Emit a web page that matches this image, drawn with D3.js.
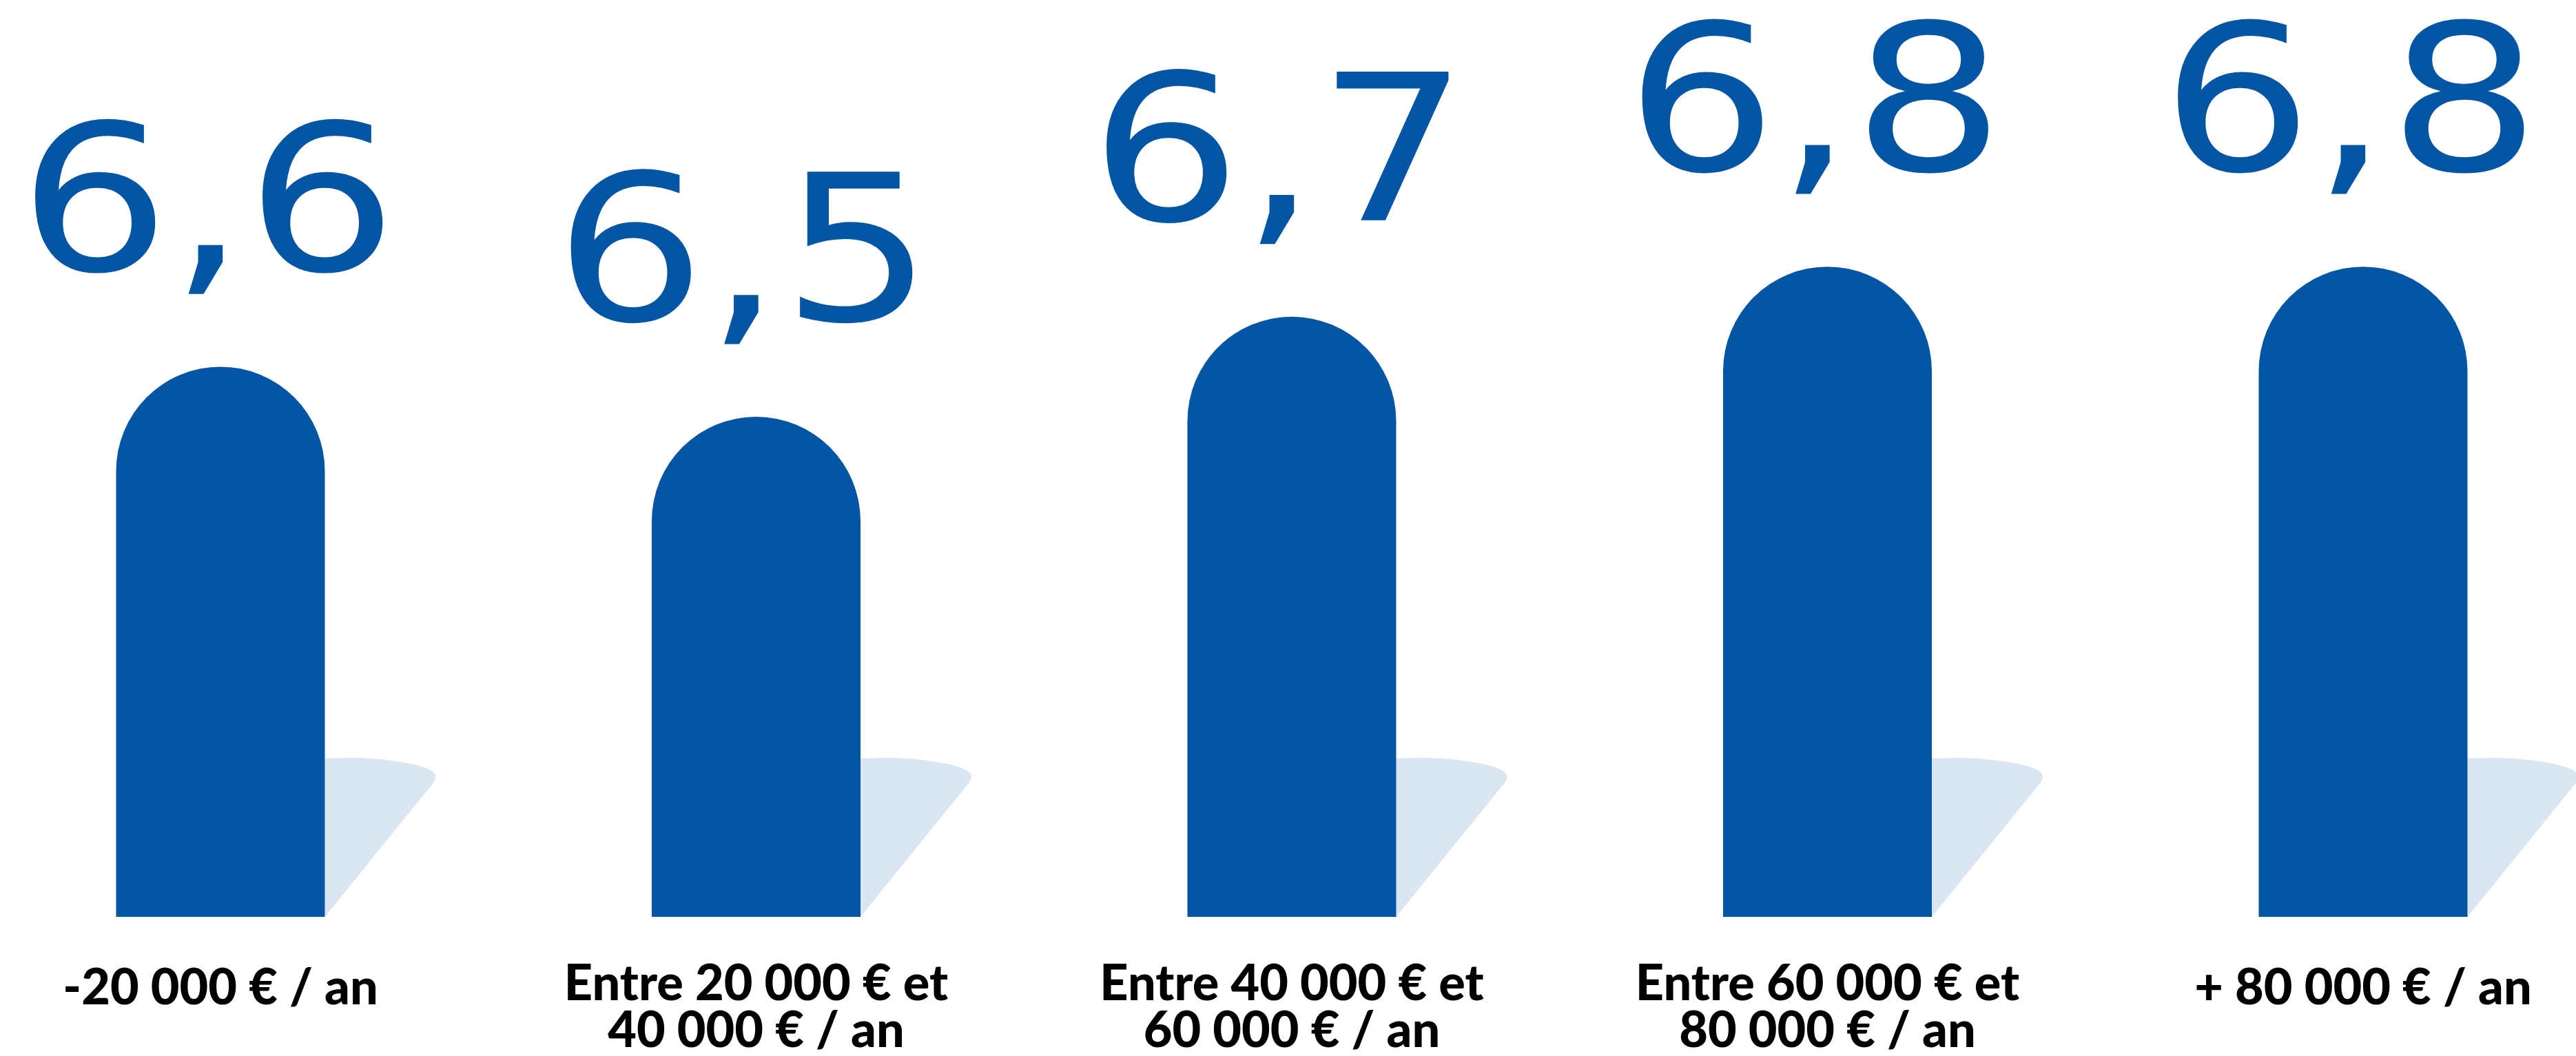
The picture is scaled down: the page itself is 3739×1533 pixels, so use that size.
<!DOCTYPE html>
<html lang="fr">
<head>
<meta charset="utf-8">
<script src="https://cdn.jsdelivr.net/npm/d3@7"></script>
<style>
  html, body { margin: 0; padding: 0; background: #ffffff; }
  svg { display: block; }
</style>
</head>
<body>
<div id="graphique"></div>
<script>
//----------------------------------------------------------------
//  Données
//----------------------------------------------------------------
var tranches = ["t1", "t2", "t3", "t4", "t5"];
var etiquettes = [
    ["-20 000 € / an"],
    ["Entre 20 000 € et", "40 000 € / an"],
    ["Entre 40 000 € et", "60 000 € / an"],
    ["Entre 60 000 € et", "80 000 € / an"],
    ["+ 80 000 € / an"]
];
var valeurs = [6.6, 6.5, 6.7, 6.8, 6.8];

//----------------------------------------------------------------
//  Création du svg
//----------------------------------------------------------------
var largeurSvg = 3739, hauteurSvg = 1533;
var bleu = "#0455a4", bleuClair = "#dae6f1";

var svg = d3.select("#graphique")
    .append("svg")
    .attr("width", largeurSvg)
    .attr("height", hauteurSvg);

var donnees = tranches.map(function(t, i) {
    return {cle: t, valeur: valeurs[i], lignes: etiquettes[i]};
});

// échelles
var x = d3.scalePoint()
    .domain(tranches)
    .range([320, 3430]);

var y = d3.scaleLinear()
    .domain([5.5, 7])
    .range([1331, 242]);

var largeurBarre = 303, rayon = largeurBarre / 2;
var base = y(5.5);

// format français : 6,6
var format = function(v) { return d3.format(".1f")(v).replace(".", ","); };

//----------------------------------------------------------------
//  Ombres (derrière les barres)
//----------------------------------------------------------------
svg.append("g")
    .selectAll("path")
    .data(donnees)
    .enter().append("path")
        .attr("fill", bleuClair)
        .attr("transform", function(d) {
            return "translate(" + (x(d.cle) + rayon) + "," + base + ")";
        })
        .attr("d", "M0,-230 L39,-231 C90,-230 140,-222 155,-212 Q166,-205 157,-194 L0,0 Z");

//----------------------------------------------------------------
//  Barres avec le haut arrondi
//----------------------------------------------------------------
svg.append("g")
    .selectAll("path")
    .data(donnees)
    .enter().append("path")
        .attr("fill", bleu)
        .attr("d", function(d) {
            var g = x(d.cle) - rayon, dr = x(d.cle) + rayon;
            var haut = y(d.valeur) + rayon;   // début de l'arrondi
            return "M" + g + "," + base +
                   "V" + haut +
                   "A" + rayon + "," + rayon + " 0 0 1 " + dr + "," + haut +
                   "V" + base + "Z";
        });

//----------------------------------------------------------------
//  Valeurs au-dessus des barres
//----------------------------------------------------------------
svg.append("g")
    .selectAll("text")
    .data(donnees)
    .enter().append("text")
        .attr("x", function(d) { return x(d.cle) - 18; })
        .attr("y", function(d) { return y(d.valeur) - 140; })
        .attr("text-anchor", "middle")
        .attr("fill", bleu)
        .attr("font-family", "'DejaVu Sans', sans-serif")
        .attr("font-size", 296)
        .attr("textLength", 550)
        .attr("lengthAdjust", "spacingAndGlyphs")
        .text(function(d) { return format(d.valeur); });

//----------------------------------------------------------------
//  Etiquettes des tranches de revenus
//----------------------------------------------------------------
var etiq = svg.append("g")
    .selectAll("text")
    .data(donnees)
    .enter().append("text")
        .attr("x", function(d) { return x(d.cle); })
        .attr("y", function(d) { return d.lignes.length > 1 ? 1452 : 1458; })
        .attr("text-anchor", "middle")
        .attr("fill", "#000000")
        .attr("font-family", "Lato, 'DejaVu Sans', sans-serif")
        .attr("font-weight", 900)
        .attr("font-size", 72);

etiq.selectAll("tspan")
    .data(function(d) { return d.lignes; })
    .enter().append("tspan")
        .attr("x", function() { return x(d3.select(this.parentNode).datum().cle); })
        .attr("dy", function(d, i) { return i === 0 ? 0 : 68; })
        .text(function(d) { return d; });
</script>
</body>
</html>
